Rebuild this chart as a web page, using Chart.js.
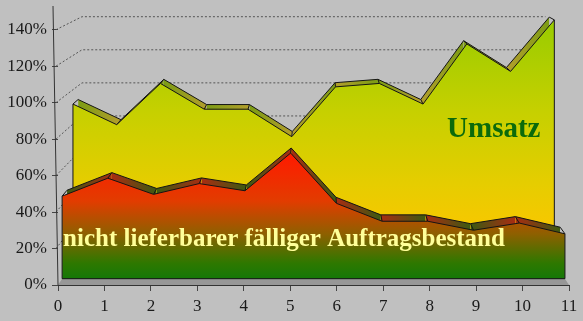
<!DOCTYPE html>
<html lang="de">
<head>
<meta charset="UTF-8">
<title>Umsatz / Auftragsbestand</title>
<script src="https://cdn.jsdelivr.net/npm/chart.js"></script>
<style>
  html, body { margin: 0; padding: 0; background: #c0c0c0; }
  #wrap { width: 583px; height: 321px; }
</style>
</head>
<body>
<div id="wrap"><canvas id="chart"></canvas></div>
<script>
// data
const categories = [0, 1, 2, 3, 4, 5, 6, 7, 8, 9, 10, 11];
const umsatz = [92, 80, 104, 89, 89, 73, 102, 104, 92, 127, 111, 141];
const auftragsbestand = [46, 56, 47, 53, 49, 70, 42, 32, 32, 27, 31, 25];
const yTicks = [0, 20, 40, 60, 80, 100, 120, 140];
const labelUmsatz = 'Umsatz';
const labelAuftrag = 'nicht lieferbarer fälliger Auftragsbestand';

// fake 3D: every depth plane is a scaled copy toward a vanishing point
// (fractions of the plot area, measured from its left / bottom edge)
const VP = { fx: 0.505, fy: 1.416 };
const WALL = 0.907;
const xMax = 11;
const yTop = 153; // the wall goes a bit higher than the last tick

function depthX(s) {
  const a = -VP.fx * (1 - s) * xMax / s;
  return { min: a, max: a + xMax / s };
}
function depthY(s) {
  const c = -VP.fy * (1 - s) * yTop / s;
  return { min: c, max: c + yTop / s };
}

const serif = '"Liberation Serif", "Times New Roman", serif';

function points(values) {
  return values.map((v, i) => ({ x: categories[i], y: v }));
}

// vertical gradient on the main y scale
function faceGradient(stops) {
  return (ctx) => {
    const chart = ctx.chart;
    if (!chart.chartArea) return stops[0][1];
    const ys = chart.scales.y;
    const y0 = ys.getPixelForValue(stops[0][0]);
    const y1 = ys.getPixelForValue(stops[stops.length - 1][0]);
    const g = chart.ctx.createLinearGradient(0, y0, 0, y1);
    const span = stops[stops.length - 1][0] - stops[0][0];
    stops.forEach(([v, c]) => g.addColorStop((v - stops[0][0]) / span, c));
    return g;
  };
}

// top face colour: one tint at the low end, the other at the high end
function ribbon(low, high) {
  return {
    backgroundColor: (ctx) => {
      const { p0, p1 } = ctx;
      const g = ctx.chart.ctx.createLinearGradient(p0.x, 0, p1.x, 0);
      if (p0.y <= p1.y) {
        g.addColorStop(0, high); g.addColorStop(1, low);
      } else {
        g.addColorStop(0, low); g.addColorStop(1, high);
      }
      return g;
    },
    borderDashOffset: (ctx) => ctx.p0DataIndex
  };
}

const redFace = faceGradient([[72, '#ff1a00'], [46, '#e23c00'], [28, '#8e6000'], [12, '#2e7800'], [0, '#0a780a']]);
const yellowFace = faceGradient([[145, '#99cc00'], [95, '#c6d000'], [55, '#e6cd00'], [25, '#fcc600']]);

const common = {
  fill: 'origin',
  clip: false,
  tension: 0,
  pointRadius: 0,
  borderColor: '#141414',
  borderWidth: 1
};

const datasets = [
  { ...common, label: 'front', data: points(auftragsbestand), backgroundColor: redFace,
    xAxisID: 'xR', yAxisID: 'yR' },
  { ...common, label: 'top', data: points(auftragsbestand), backgroundColor: '#7a3a10',
    segment: ribbon('#3c5a12', '#a82c12'), xAxisID: 'xRb', yAxisID: 'yRb', frontOf: 0 },
  { ...common, label: 'front', data: points(umsatz), backgroundColor: yellowFace,
    xAxisID: 'xY', yAxisID: 'yY' },
  { ...common, label: 'top', data: points(umsatz), backgroundColor: '#9a9a20',
    segment: ribbon('#b39e2c', '#7c9c14'), xAxisID: 'xYb', yAxisID: 'yYb', frontOf: 2 }
];

const scales = {
  x: {
    type: 'linear', min: 0, max: xMax,
    afterFit: (s) => { s.height = 36; s.paddingLeft = 0; s.paddingRight = 0; },
    ticks: { stepSize: 1, color: '#1a1a1a', padding: 5, font: { family: serif, size: 17 } },
    grid: { drawOnChartArea: false, tickLength: 6, color: '#444' },
    border: { color: '#333' }
  },
  y: {
    type: 'linear', min: 0, max: yTop,
    afterFit: (s) => { s.width = 58; s.paddingTop = 0; s.paddingBottom = 0; },
    afterBuildTicks: (s) => { s.ticks = yTicks.map(v => ({ value: v })); },
    ticks: { color: '#1a1a1a', padding: 5, font: { family: serif, size: 17 }, callback: (v) => v + '%' },
    grid: { drawOnChartArea: false, tickLength: 6, color: '#444' },
    border: { display: false }
  }
};
[['R', 0.984], ['Rb', 0.965], ['Y', 0.942], ['Yb', 0.922]].forEach(([id, s]) => {
  scales['x' + id] = { type: 'linear', display: false, ...depthX(s) };
  scales['y' + id] = { type: 'linear', display: false, ...depthY(s) };
});

const depthPlugin = {
  id: 'depth',
  beforeDatasetsDraw(chart) {
    const { ctx, chartArea: a, scales: { y } } = chart;
    const vx = a.left + VP.fx * (a.right - a.left);
    const vy = a.bottom - VP.fy * (a.bottom - a.top);
    const proj = (px, py, s) => [vx + s * (px - vx), vy + s * (py - vy)];
    ctx.save();
    // floor
    const fl = [[a.left, a.bottom], [a.right, a.bottom], proj(a.right, a.bottom, WALL), proj(a.left, a.bottom, WALL)];
    ctx.fillStyle = '#979797';
    ctx.beginPath();
    fl.forEach((p, i) => i ? ctx.lineTo(p[0], p[1]) : ctx.moveTo(p[0], p[1]));
    ctx.closePath();
    ctx.fill();
    // wall gridlines
    ctx.strokeStyle = '#555';
    ctx.lineWidth = 1;
    ctx.setLineDash([2, 2]);
    yTicks.forEach(v => {
      if (v === 0) return;
      const py = y.getPixelForValue(v);
      const bl = proj(a.left, py, WALL), br = proj(a.right, py, WALL);
      ctx.beginPath();
      ctx.moveTo(a.left - 2, py);
      ctx.lineTo(bl[0], bl[1]);
      ctx.lineTo(br[0], br[1]);
      ctx.stroke();
    });
    ctx.setLineDash([]);
    // left wall edge (value axis)
    ctx.strokeStyle = '#333';
    ctx.beginPath();
    ctx.moveTo(a.left, a.bottom);
    ctx.lineTo(a.left - 5, a.top);
    ctx.stroke();
    ctx.restore();
  },
  afterDatasetDraw(chart, args) {
    const ds = chart.data.datasets[args.index];
    const ctx = chart.ctx;
    const pts = args.meta.data;
    ctx.save();
    ctx.strokeStyle = '#141414';
    ctx.lineWidth = 1;
    ctx.beginPath();
    if (ds.frontOf !== undefined) {
      // fold lines on the top face
      const front = chart.getDatasetMeta(ds.frontOf).data;
      pts.forEach((p, i) => { ctx.moveTo(front[i].x, front[i].y); ctx.lineTo(p.x, p.y); });
    } else {
      const base = chart.scales[ds.yAxisID].getPixelForValue(0);
      const first = pts[0], last = pts[pts.length - 1];
      ctx.moveTo(first.x, first.y);
      ctx.lineTo(first.x, base);
      ctx.lineTo(last.x, base);
      ctx.lineTo(last.x, last.y);
    }
    ctx.stroke();
    ctx.restore();
  },
  afterDatasetsDraw(chart) {
    const { ctx, scales: { x, y } } = chart;
    ctx.save();
    ctx.textBaseline = 'alphabetic';
    ctx.font = 'bold 29px ' + serif;
    ctx.fillStyle = '#0b6a0b';
    ctx.textAlign = 'center';
    ctx.fillText(labelUmsatz, x.getPixelForValue(9.38), y.getPixelForValue(81.3));
    ctx.font = 'bold 25px ' + serif;
    ctx.fillStyle = '#ffff99';
    ctx.textAlign = 'left';
    ctx.fillText(labelAuftrag, x.getPixelForValue(0.11), y.getPixelForValue(21.4));
    ctx.restore();
  }
};

new Chart(document.getElementById('chart'), {
  type: 'line',
  data: { datasets },
  options: {
    responsive: true,
    maintainAspectRatio: false,
    devicePixelRatio: 1,
    animation: false,
    events: [],
    layout: { padding: { top: 6, right: 14, left: 0, bottom: 0 } },
    plugins: { legend: { display: false }, tooltip: { enabled: false } },
    scales
  },
  plugins: [depthPlugin]
});
</script>
</body>
</html>
